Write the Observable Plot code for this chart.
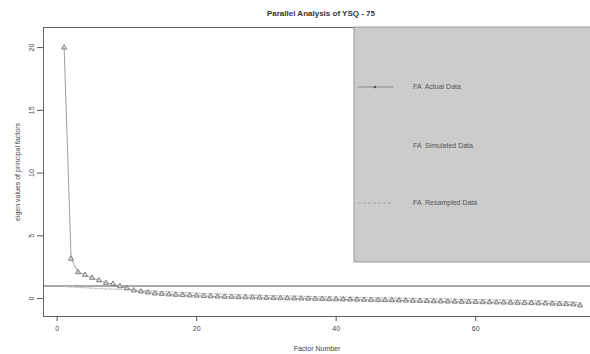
<!DOCTYPE html>
<html><head><meta charset="utf-8">
<script src="https://cdn.jsdelivr.net/npm/d3@7"></script>
<script src="https://cdn.jsdelivr.net/npm/@observablehq/plot@0.6"></script>
<style>body{margin:0;background:#fff;} svg{display:block;}</style>
</head><body><div id="chart"></div>
<script>
const title = "Parallel Analysis of YSQ - 75";
const xLabel = "Factor Number";
const yLabel = "eigen values of principal factors";
const xTicks = [0, 20, 40, 60];
const yTicks = [0, 5, 10, 15, 20];
const legendLabels = ["FA  Actual Data", "FA  Simulated Data", "FA  Resampled Data"];
const actual = [20.0,3.17,2.10,1.89,1.65,1.44,1.25,1.17,0.98,0.82,
0.64,0.56,0.48,0.40,0.37,0.33,0.30,0.28,0.25,0.23,
0.20,0.18,0.16,0.14,0.13,0.11,0.10,0.08,0.07,0.05,
0.04,0.03,0.02,0.01,0.0,-0.01,-0.02,-0.03,-0.05,-0.06,
-0.07,-0.08,-0.09,-0.10,-0.11,-0.12,-0.13,-0.14,-0.15,-0.16,
-0.18,-0.19,-0.20,-0.22,-0.23,-0.24,-0.25,-0.26,-0.27,-0.28,
-0.29,-0.30,-0.31,-0.32,-0.33,-0.34,-0.35,-0.36,-0.38,-0.39,
-0.41,-0.43,-0.45,-0.47,-0.55];
const simulated = [0.98,0.94,0.91,0.88,0.85,0.82,0.80,0.78,0.75,0.73,
0.70,0.67,0.64,0.61,0.58,0.55,0.52,0.49,0.46,0.44,
0.42,0.40,0.38,0.36,0.34,0.32,0.30,0.29,0.27,0.26,
0.24,0.23,0.21,0.20,0.19,0.17,0.16,0.15,0.14,0.13,
0.12,0.11,0.10,0.09,0.08,0.07,0.06,0.05,0.04,0.03,
0.02,0.01,0.00,-0.01,-0.02,-0.03,-0.04,-0.05,-0.06,-0.07,
-0.08,-0.09,-0.10,-0.11,-0.12,-0.13,-0.14,-0.16,-0.17,-0.19,
-0.21,-0.23,-0.25,-0.28,-0.32];
const resampled = [0.95,0.91,0.88,0.85,0.82,0.79,0.76,0.74,0.72,0.70,
0.67,0.64,0.61,0.58,0.55,0.52,0.49,0.47,0.45,0.42,
0.40,0.38,0.36,0.34,0.32,0.30,0.29,0.27,0.26,0.24,
0.23,0.21,0.20,0.19,0.17,0.16,0.15,0.14,0.13,0.12,
0.11,0.10,0.09,0.08,0.07,0.06,0.05,0.04,0.03,0.02,
0.01,0.00,-0.01,-0.02,-0.03,-0.04,-0.05,-0.06,-0.07,-0.08,
-0.09,-0.10,-0.11,-0.12,-0.13,-0.14,-0.15,-0.17,-0.18,-0.20,
-0.22,-0.24,-0.27,-0.30,-0.34];
const kaiser = [1];

const rows = actual.map((v, i) => ({f: i + 1, actual: v, sim: simulated[i], res: resampled[i]}));

const plot = Plot.plot({
  width: 590, height: 354,
  marginLeft: 43, marginRight: 0, marginTop: 27, marginBottom: 38,
  x: {domain: [-1.96, 76.47]},
  y: {domain: [-1.43, 21.6]},
  style: {fontFamily: "'Liberation Sans', Arial, sans-serif", fontSize: "7px", color: "#444", background: "#fff"},
  marks: [
    Plot.frame({anchor: "left", stroke: "#666"}),
    Plot.frame({anchor: "top", stroke: "#666"}),
    Plot.frame({anchor: "bottom", stroke: "#666"}),
    Plot.axisX({ticks: xTicks, tickSize: 5, tickPadding: 5, stroke: "#555", fill: "#444",
      label: xLabel, labelAnchor: "center", labelArrow: "none", labelOffset: 34}),
    Plot.axisY({ticks: yTicks, tickSize: 6, tickPadding: 4, tickRotate: -90, stroke: "#555", fill: "#444",
      label: yLabel, labelAnchor: "center", labelArrow: "none", labelOffset: 28}),
    Plot.ruleY(kaiser, {stroke: "#555", strokeWidth: 1}),
    Plot.line(rows, {x: "f", y: "sim", stroke: "#c4c4c4", strokeWidth: 0.8, strokeDasharray: "1,2"}),
    Plot.line(rows, {x: "f", y: "res", stroke: "#b4b4b4", strokeWidth: 0.8, strokeDasharray: "3,2"}),
    Plot.line(rows, {x: "f", y: "actual", stroke: "#888", strokeWidth: 0.8}),
    Plot.dot(rows, {x: "f", y: "actual", symbol: "triangle", r: 1.9, stroke: "#6a6a6a", fill: "#d8d8d8", strokeWidth: 0.8}),
    Plot.text([title], {frameAnchor: "top", dy: -17, dx: 4, fontWeight: "bold", fontSize: 8, fill: "#333"})
  ]
});
document.getElementById("chart").appendChild(plot);

// legend (R-style box, top right)
const svg = d3.select(plot);
const lg = svg.append("g").attr("text-anchor", "start");
lg.append("rect").attr("x", 354).attr("y", 27).attr("width", 250).attr("height", 235)
  .attr("fill", "#cccccc").attr("stroke", "#999").attr("stroke-width", 1);
const ly = [87, 146, 203];
const dash = [null, "1,2", "3,2"];
const lc = ["#777", "#bbb", "#999"];
legendLabels.forEach((t, i) => {
  lg.append("line").attr("x1", 358).attr("x2", 393).attr("y1", ly[i]).attr("y2", ly[i])
    .attr("stroke", lc[i]).attr("stroke-width", 0.8).attr("stroke-dasharray", dash[i]);
  lg.append("text").attr("x", 413).attr("y", ly[i]).attr("dy", "0.35em").attr("text-anchor", "start")
    .attr("font-size", 7).attr("fill", "#555").text(t);
});
lg.append("circle").attr("cx", 375).attr("cy", ly[0]).attr("r", 1.3).attr("fill", "#555");
</script></body></html>
